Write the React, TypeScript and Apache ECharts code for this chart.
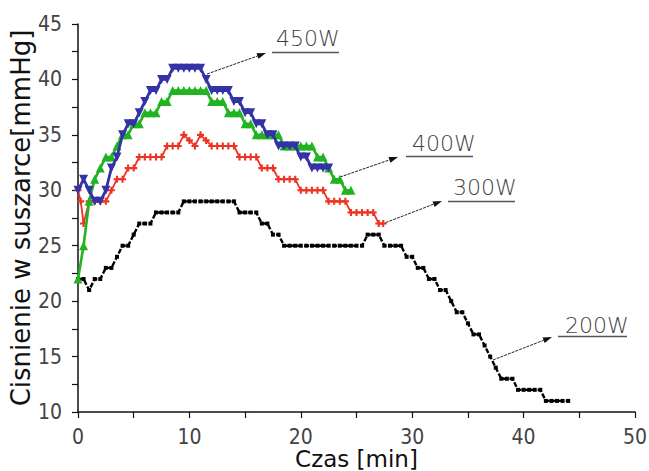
import React, { useEffect, useRef } from "react";
import * as echarts from "echarts";

// ---- data (time [min], pressure [mmHg]) ----
const blue450: [number, number][] = [
  [0, 30], [0.5, 31], [1, 30], [1.5, 29], [2, 29], [2.5, 30], [3, 32], [3.5, 33], [4, 35], [4.5, 36],
  [5, 36], [5.5, 37], [6, 38], [6.5, 39], [7, 39], [7.5, 40], [8, 40], [8.5, 41], [9, 41], [9.5, 41],
  [10, 41], [10.5, 41], [11, 41], [11.5, 40], [12, 39], [12.5, 39], [13, 39], [13.5, 39], [14, 38],
  [14.5, 38], [15, 37], [15.5, 37], [16, 36], [16.5, 36], [17, 35], [17.5, 35], [18, 34], [18.5, 34],
  [19, 34], [19.5, 34], [20, 33], [20.5, 33], [21, 32], [21.5, 32], [22, 32], [22.5, 32],
];

const green400: [number, number][] = [
  [0, 22], [0.5, 25], [1, 29], [1.5, 31], [2, 32], [2.5, 33], [3, 33], [3.5, 34], [4, 35], [4.5, 35],
  [5, 36], [5.5, 36], [6, 37], [6.5, 37], [7, 37], [7.5, 38], [8, 38], [8.5, 39], [9, 39], [9.5, 39],
  [10, 39], [10.5, 39], [11, 39], [11.5, 39], [12, 38], [12.5, 38], [13, 38], [13.5, 37], [14, 37],
  [14.5, 37], [15, 36], [15.5, 36], [16, 35], [16.5, 35], [17, 35], [17.5, 35], [18, 35], [18.5, 34],
  [19, 34], [19.5, 34], [20, 34], [20.5, 34], [21, 34], [21.5, 33], [22, 33], [22.5, 32], [23, 31],
  [23.5, 31], [24, 30], [24.5, 30],
];

const red300: [number, number][] = [
  [0, 30], [0.25, 29], [0.5, 27], [1, 29], [1.5, 29], [2, 29], [2.5, 29], [3, 30], [3.5, 31], [4, 31],
  [4.5, 32], [5, 32], [5.5, 33], [6, 33], [6.5, 33], [7, 33], [7.5, 33], [8, 34], [8.5, 34], [9, 34],
  [9.5, 35], [10, 34.5], [10.5, 34], [11, 35], [11.5, 34.5], [12, 34], [12.5, 34], [13, 34], [13.5, 34],
  [14, 34], [14.5, 33], [15, 33], [15.5, 33], [16, 33], [16.5, 32], [17, 32], [17.5, 32], [18, 31],
  [18.5, 31], [19, 31], [19.5, 31], [20, 30], [20.5, 30], [21, 30], [21.5, 30], [22, 30], [22.5, 29],
  [23, 29], [23.5, 29], [24, 29], [24.5, 28], [25, 28], [25.5, 28], [26, 28], [26.5, 28], [27, 27],
  [27.4, 27],
];

const black200: [number, number][] = [
  [0, 22], [0.5, 22], [1, 21], [1.5, 22], [2, 22], [2.5, 23], [3, 23], [3.5, 24], [4, 25], [4.5, 25],
  [5, 26], [5.5, 27], [6, 27], [6.5, 27], [7, 28], [7.5, 28], [8, 28], [8.5, 28], [9, 28], [9.5, 29],
  [10, 29], [10.5, 29], [11, 29], [11.5, 29], [12, 29], [12.5, 29], [13, 29], [13.5, 29], [14, 29],
  [14.5, 28], [15, 28], [15.5, 28], [16, 28], [16.5, 27], [17, 27], [17.5, 26], [18, 26], [18.5, 25],
  [19, 25], [19.5, 25], [20, 25], [20.5, 25], [21, 25], [21.5, 25], [22, 25], [22.5, 25], [23, 25],
  [23.5, 25], [24, 25], [24.5, 25], [25, 25], [25.5, 25], [26, 26], [26.5, 26], [27, 26], [27.5, 25],
  [28, 25], [28.5, 25], [29, 25], [29.5, 24], [30, 24], [30.5, 23], [31, 23], [31.5, 22], [32, 22],
  [32.5, 21], [33, 21], [33.5, 20], [34, 19], [34.5, 19], [35, 18], [35.5, 17], [36, 17], [36.5, 16],
  [37, 15], [37.5, 14], [38, 13], [38.5, 13], [39, 13], [39.5, 12], [40, 12], [40.5, 12], [41, 12],
  [41.5, 12], [42, 11], [42.5, 11], [43, 11], [43.5, 11], [44, 11],
];

const seriesNames = ["450W", "400W", "300W", "200W"];
const xTitle = "Czas [min]";
const yTitle = "Cisnienie w suszarce[mmHg]";

const NARROW = "'Liberation Sans Narrow', 'DejaVu Sans Condensed', 'Arial Narrow', sans-serif";
const WIDE = "'DejaVu Sans', Verdana, sans-serif";

function arrow(x1: number, y1: number, x2: number, y2: number) {
  const dx = x2 - x1;
  const dy = y2 - y1;
  const len = Math.sqrt(dx * dx + dy * dy);
  const ux = dx / len;
  const uy = dy / len;
  const hl = 9;
  const hw = 3;
  const bx = x2 - ux * hl;
  const by = y2 - uy * hl;
  return [
    {
      type: "line",
      shape: { x1, y1, x2: bx, y2: by },
      style: { stroke: "#222", lineWidth: 1, lineDash: [3, 1] },
      silent: true,
    },
    {
      type: "polygon",
      shape: {
        points: [
          [x2, y2],
          [bx - uy * hw, by + ux * hw],
          [bx + uy * hw, by - ux * hw],
        ],
      },
      style: { fill: "#111" },
      silent: true,
    },
  ];
}

function label(text: string, x: number, y: number, ux1: number, ux2: number, uy: number) {
  return [
    {
      type: "text",
      x,
      y,
      style: {
        text,
        fill: "#444",
        font: `300 22px ${WIDE}`,
        textVerticalAlign: "middle",
      },
      silent: true,
    },
    {
      type: "line",
      shape: { x1: ux1, y1: uy, x2: ux2, y2: uy },
      style: { stroke: "#555", lineWidth: 1.5 },
      silent: true,
    },
  ];
}

export default function App() {
  const ref = useRef<HTMLDivElement>(null);
  useEffect(() => {
    if (!ref.current) return;
    const chart = echarts.init(ref.current, null, { renderer: "svg" });
    const plus = "path://M3.5,0H6.5V3.5H10V6.5H6.5V10H3.5V6.5H0V3.5H3.5Z";
    const triDown = "path://M0,0L10,0L5,9Z";
    chart.setOption({
      animation: false,
      backgroundColor: "#fff",
      grid: {
        left: 78,
        right: 14,
        top: 24,
        bottom: 59,
        containLabel: false,
        outerBoundsMode: "none",
      },
      xAxis: {
        type: "value",
        min: 0,
        max: 50,
        interval: 5,
        splitLine: { show: false },
        axisLine: { lineStyle: { color: "#111", width: 1.5 } },
        axisTick: { length: 6, lineStyle: { color: "#111", width: 1.2 } },
        axisLabel: {
          formatter: (v: number) => (v % 10 === 0 ? String(v) : ""),
          fontFamily: NARROW,
          fontSize: 21,
          color: "#444",
          margin: 14,
        },
        name: xTitle,
        nameLocation: "middle",
        nameGap: 35,
        nameMoveOverlap: false,
        nameTextStyle: { fontFamily: WIDE, fontSize: 23, color: "#111", verticalAlign: "top", lineHeight: 24 },
      },
      yAxis: {
        type: "value",
        min: 10,
        max: 45,
        interval: 2.5,
        splitLine: { show: false },
        axisLine: { show: true, lineStyle: { color: "#111", width: 1.5 } },
        axisTick: { show: true, length: 6, lineStyle: { color: "#111", width: 1.2 } },
        axisLabel: {
          formatter: (v: number) => (v % 5 === 0 ? String(v) : ""),
          fontFamily: NARROW,
          fontSize: 21,
          color: "#444",
          margin: 16,
        },
        name: yTitle,
        nameLocation: "middle",
        nameGap: 44,
        nameMoveOverlap: false,
        nameTextStyle: { fontFamily: WIDE, fontSize: 26, color: "#111" },
      },
      series: [
        {
          name: seriesNames[3],
          type: "line",
          data: black200,
          symbol: "rect",
          symbolSize: [4, 4],
          itemStyle: { color: "#000" },
          lineStyle: { color: "#000", width: 2.4, type: [5, 2] },
          z: 2,
        },
        {
          name: seriesNames[2],
          type: "line",
          data: red300,
          symbol: plus,
          symbolSize: 7,
          itemStyle: { color: "#ee3322" },
          lineStyle: { color: "#ee3322", width: 1.8 },
          z: 3,
        },
        {
          name: seriesNames[1],
          type: "line",
          data: green400,
          symbol: "triangle",
          symbolSize: 9,
          itemStyle: { color: "#22b322" },
          lineStyle: { color: "#22b322", width: 2.6 },
          z: 4,
        },
        {
          name: seriesNames[0],
          type: "line",
          data: blue450,
          symbol: triDown,
          symbolSize: 9,
          itemStyle: { color: "#3333a6" },
          lineStyle: { color: "#3333a6", width: 2.8 },
          z: 5,
        },
      ],
      graphic: [
        ...arrow(207, 74, 266, 53),
        ...label(seriesNames[0], 276, 38, 272, 339, 52.5),
        ...arrow(340, 177, 398, 157),
        ...label(seriesNames[1], 412, 143, 406, 473, 156.5),
        ...arrow(382, 224, 442, 201),
        ...label(seriesNames[2], 453, 187, 448, 515, 201.5),
        ...arrow(493, 360, 552, 337),
        ...label(seriesNames[3], 565, 325, 558, 627, 336.5),
      ],
    });
    return () => chart.dispose();
  }, []);
  return (
    <div
      ref={ref}
      style={{ position: "absolute", left: 0, top: 0, width: 649, height: 471, background: "#fff" }}
    />
  );
}
